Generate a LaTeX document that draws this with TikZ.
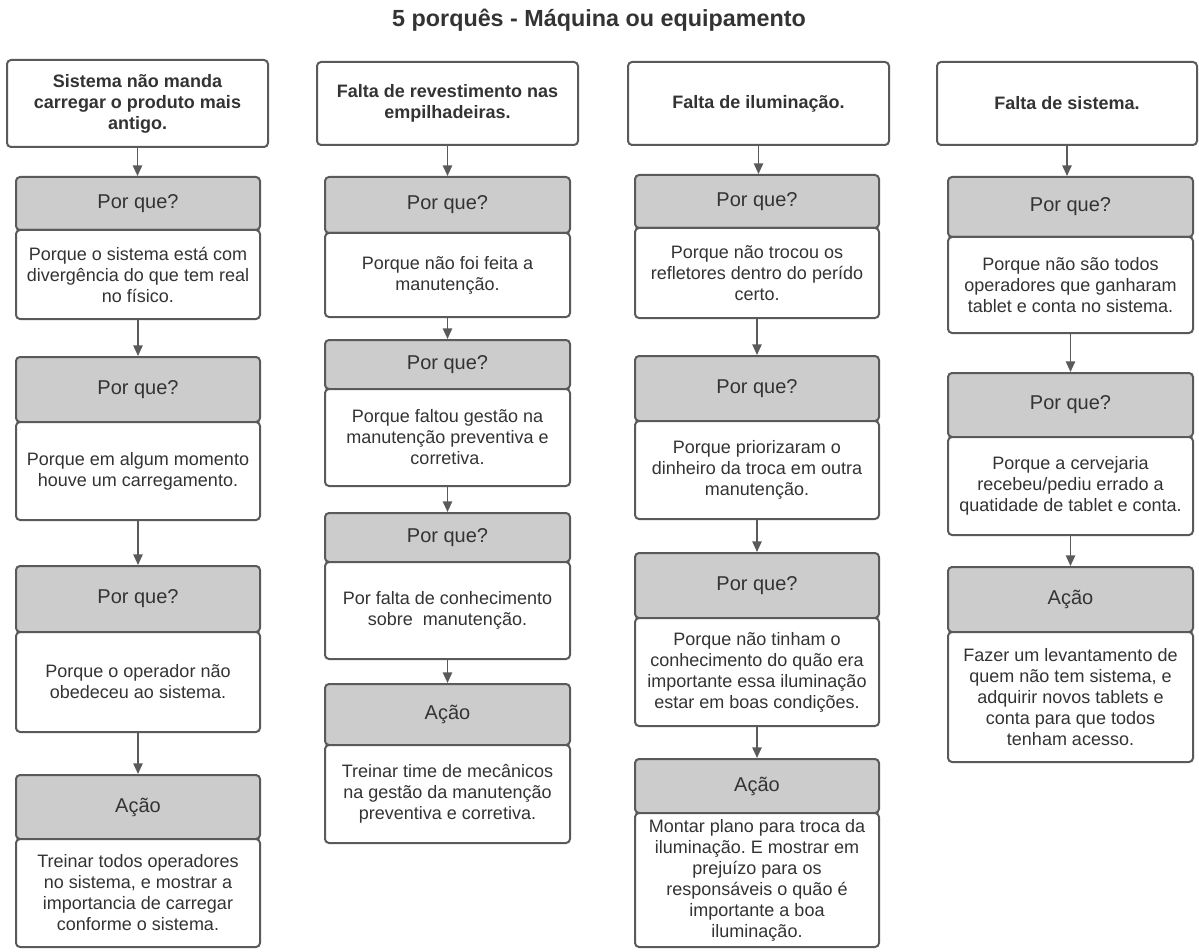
\documentclass[tikz,border=0pt]{standalone}
\usepackage{fontspec}
\setmainfont{Liberation Sans}
\usetikzlibrary{arrows.meta}
\frenchspacing

\definecolor{ink}{HTML}{333333}
\definecolor{edge}{HTML}{5A5A5A}
\definecolor{hdrfill}{HTML}{CCCCCC}

\tikzset{
  frame/.style={draw=edge, line width=1.5pt, rounded corners=3pt,
    inner sep=0pt, text=ink, align=center, anchor=center},
  topbox/.style={frame, fill=white,
    font=\fontsize{13.5pt}{15.75pt}\selectfont\bfseries},
  hdr/.style={frame, fill=hdrfill, font=\fontsize{15pt}{18pt}\selectfont},
  bodybox/.style={frame, fill=white,
    font=\fontsize{13.5pt}{15.75pt}\selectfont},
  arr/.style={draw=edge, line width=1.2pt,
    -{Triangle[length=8pt,width=7pt]}},
  titletext/.style={text=ink, font=\fontsize{17.5pt}{21pt}\selectfont\bfseries}
}

% a box spanning left #3, right #4, top #5, bottom #6 (pixel units)
% #1 style, #2 name, #7 text
\newcommand\pxbox[7]{%
  \pgfmathsetmacro\bxc{(#3+#4)/2}%
  \pgfmathsetmacro\byc{(#5+#6)/2}%
  \pgfmathsetmacro\bxw{(#4-#3)*0.75}%
  \pgfmathsetmacro\byh{(#6-#5)*0.75}%
  \node[#1, minimum width=\bxw pt, minimum height=\byh pt] (#2) at (\bxc,\byc) {#7};%
}

% one "why" step: grey header on top of a white text box
% #1 name, #2 left, #3 right, #4 top, #5 split, #6 bottom, #7 header, #8 text
\newcommand\whystep[8]{%
  \pxbox{hdr}{#1h}{#2}{#3}{#4}{#5}{#7}%
  \pxbox{bodybox}{#1b}{#2}{#3}{#5}{#6}{#8}%
}

\begin{document}
\begin{tikzpicture}[x=0.75pt, y=-0.75pt]
\useasboundingbox (0,0) rectangle (1199,952);

\node[titletext] (title) at (599,20) {5 porquês - Máquina ou equipamento};

% ---- column 1
\pxbox{topbox}{t1}{7}{268}{60}{147}
  {Sistema não manda\\carregar o produto mais\\antigo.}
\whystep{c1a}{16}{260}{177}{230}{319}{Por que?}
  {Porque o sistema está com\\divergência do que tem real\\no físico.}
\whystep{c1b}{16}{260}{357}{422}{520}{Por que?}
  {Porque em algum momento\\houve um carregamento.}
\whystep{c1c}{16}{260}{566}{632}{732}{Por que?}
  {Porque o operador não\\obedeceu ao sistema.}
\whystep{c1d}{16}{260}{775}{839}{947}{Ação}
  {Treinar todos operadores\\no sistema, e mostrar a\\importancia de carregar\\conforme o sistema.}

\draw[arr] (t1.south) -- (t1.south |- c1ah.north);
\draw[arr] (c1ab.south) -- (c1bh.north);
\draw[arr] (c1bb.south) -- (c1ch.north);
\draw[arr] (c1cb.south) -- (c1dh.north);

% ---- column 2
\pxbox{topbox}{t2}{317}{578}{62}{145}
  {Falta de revestimento nas\\empilhadeiras.}
\whystep{c2a}{325}{570}{177}{233}{317}{Por que?}
  {Porque não foi feita a\\manutenção.}
\whystep{c2b}{325}{570}{340}{389}{486}{Por que?}
  {Porque faltou gestão na\\manutenção preventiva e\\corretiva.}
\whystep{c2c}{325}{570}{513}{562}{659}{Por que?}
  {Por falta de conhecimento\\sobre\ \ manutenção.}
\whystep{c2d}{325}{570}{684}{745}{843}{Ação}
  {Treinar time de mecânicos\\na gestão da manutenção\\preventiva e corretiva.}

\draw[arr] (t2.south) -- (t2.south |- c2ah.north);
\draw[arr] (c2ab.south) -- (c2bh.north);
\draw[arr] (c2bb.south) -- (c2ch.north);
\draw[arr] (c2cb.south) -- (c2dh.north);

% ---- column 3
\pxbox{topbox}{t3}{628}{889}{62}{145}{Falta de iluminação.}
\whystep{c3a}{635}{879}{175}{228}{318}{Por que?}
  {Porque não trocou os\\refletores dentro do perído\\certo.}
\whystep{c3b}{635}{879}{356}{421}{519}{Por que?}
  {Porque priorizaram o\\dinheiro da troca em outra\\manutenção.}
\whystep{c3c}{635}{879}{553}{618}{726}{Por que?}
  {Porque não tinham o\\conhecimento do quão era\\importante essa iluminação\\estar em boas condições.}
\whystep{c3d}{635}{879}{759}{813}{947}{Ação}
  {Montar plano para troca da\\iluminação. E mostrar em\\prejuízo para os\\responsáveis o quão é\\importante a boa\\iluminação.}

\draw[arr] (t3.south) -- (t3.south |- c3ah.north);
\draw[arr] (c3ab.south) -- (c3bh.north);
\draw[arr] (c3bb.south) -- (c3ch.north);
\draw[arr] (c3cb.south) -- (c3dh.north);

% ---- column 4
\pxbox{topbox}{t4}{937}{1197}{62}{145}{Falta de sistema.}
\whystep{c4a}{948}{1193}{177}{237}{333}{Por que?}
  {Porque não são todos\\operadores que ganharam\\tablet e conta no sistema.}
\whystep{c4b}{948}{1193}{373}{437}{535}{Por que?}
  {Porque a cervejaria\\recebeu/pediu errado a\\quatidade de tablet e conta.}
\whystep{c4c}{948}{1193}{567}{632}{762}{Ação}
  {Fazer um levantamento de\\quem não tem sistema, e\\adquirir novos tablets e\\conta para que todos\\tenham acesso.}

\draw[arr] (t4.south) -- (t4.south |- c4ah.north);
\draw[arr] (c4ab.south) -- (c4bh.north);
\draw[arr] (c4bb.south) -- (c4ch.north);
\end{tikzpicture}
\end{document}
